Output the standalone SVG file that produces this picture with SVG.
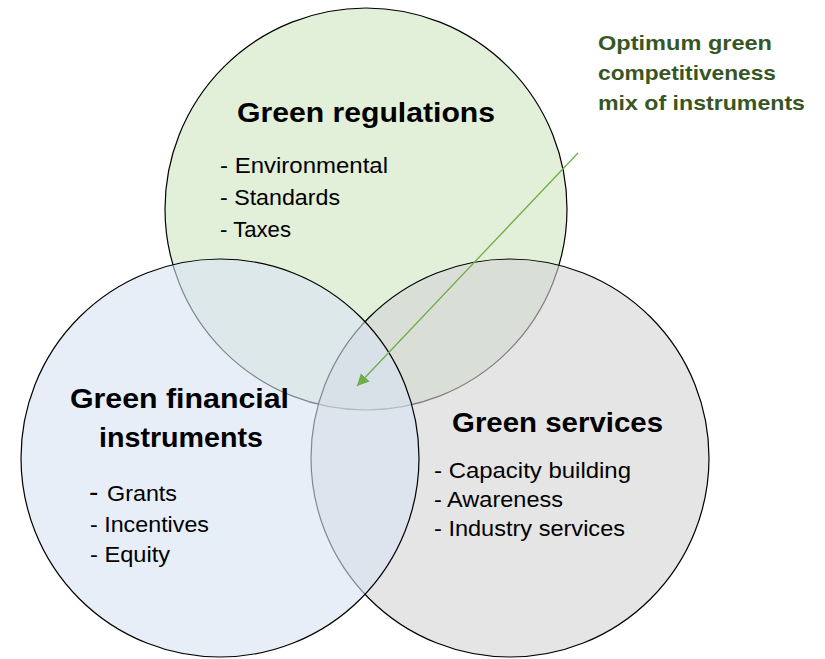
<svg xmlns="http://www.w3.org/2000/svg" width="825" height="659" viewBox="0 0 825 659">
<style>
.c{stroke:#000;stroke-width:1.2;fill-opacity:0.6}
.h{font-family:"Liberation Sans",Arial,sans-serif;font-weight:bold;font-size:28px;fill:#000}
.t{font-family:"Liberation Sans",Arial,sans-serif;font-size:21.5px;fill:#000}
.a{font-family:"Liberation Sans",Arial,sans-serif;font-weight:bold;font-size:21px;fill:#375623}
</style>
<defs>
<marker id="ah" markerWidth="12" markerHeight="12" refX="10" refY="5" orient="auto" markerUnits="userSpaceOnUse" viewBox="0 0 10 10">
<path d="M0,0 L10,5 L0,10 z" fill="#70AD47"/>
</marker>
</defs>
<rect width="825" height="659" fill="#fff"/>
<g id="regulations">
<circle class="c" cx="366" cy="209" r="201" fill="#CFE4C0"/>
<text class="h" x="237" y="122" textLength="258" lengthAdjust="spacingAndGlyphs">Green regulations</text>
<text class="t" x="220" y="173" textLength="168" lengthAdjust="spacingAndGlyphs">- Environmental</text>
<text class="t" x="220" y="205" textLength="120" lengthAdjust="spacingAndGlyphs">- Standards</text>
<text class="t" x="220" y="237" textLength="71" lengthAdjust="spacingAndGlyphs">- Taxes</text>
</g>
<g id="services">
<circle class="c" cx="510" cy="458" r="199" fill="#D4D4D4"/>
<text class="h" x="452" y="432" textLength="211" lengthAdjust="spacingAndGlyphs">Green services</text>
<text class="t" x="434" y="478" textLength="197" lengthAdjust="spacingAndGlyphs">- Capacity building</text>
<text class="t" x="434" y="507" textLength="129" lengthAdjust="spacingAndGlyphs">- Awareness</text>
<text class="t" x="434" y="536" textLength="191" lengthAdjust="spacingAndGlyphs">- Industry services</text>
</g>
<g id="financial">
<circle class="c" cx="220" cy="458" r="199" fill="#D9E3F3"/>
<text class="h" x="70" y="408" textLength="219" lengthAdjust="spacingAndGlyphs">Green financial</text>
<text class="h" x="99" y="447" textLength="164" lengthAdjust="spacingAndGlyphs">instruments</text>
<text class="t" x="89" y="501"><tspan font-size="28px">-</tspan><tspan x="107" textLength="70" lengthAdjust="spacingAndGlyphs">Grants</tspan></text>
<text class="t" x="90" y="532" textLength="119" lengthAdjust="spacingAndGlyphs">- Incentives</text>
<text class="t" x="90" y="562" textLength="80" lengthAdjust="spacingAndGlyphs">- Equity</text>
</g>
<g id="annotation">
<text class="a" x="598" y="50" textLength="174" lengthAdjust="spacingAndGlyphs">Optimum green</text>
<text class="a" x="598" y="80" textLength="178" lengthAdjust="spacingAndGlyphs">competitiveness</text>
<text class="a" x="598" y="110" textLength="207" lengthAdjust="spacingAndGlyphs">mix of instruments</text>
</g>
<g id="connectors">
<line x1="578" y1="153" x2="357" y2="386" stroke="#70AD47" stroke-width="1.3" marker-end="url(#ah)"/>
</g>
</svg>
